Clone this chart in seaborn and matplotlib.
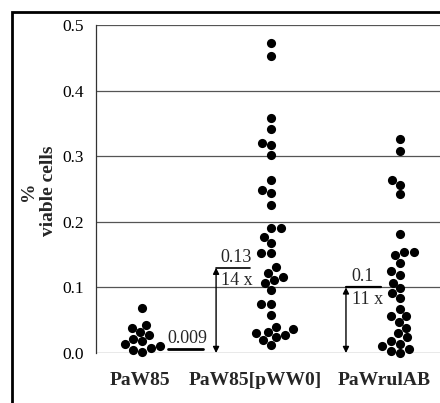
import numpy as np
import pandas as pd
import matplotlib
matplotlib.use("Agg")
import matplotlib.pyplot as plt
import matplotlib.transforms as mtransforms
from matplotlib.patches import Rectangle
import seaborn as sns

# ---- data ----
categories = ["PaW85", "PaW85[pWW0]", "PaWrulAB"]
paw85 = [0.069, 0.043, 0.038, 0.032, 0.027, 0.022, 0.018, 0.014, 0.011,
         0.008, 0.005, 0.002]
paw85_pww0 = [0.473, 0.453, 0.358, 0.341, 0.320, 0.317, 0.302, 0.264, 0.248, 0.244,
              0.226, 0.190, 0.190, 0.177, 0.168, 0.152, 0.152, 0.131, 0.122, 0.116,
              0.111, 0.107, 0.096, 0.075, 0.075, 0.058, 0.040, 0.036, 0.032, 0.030,
              0.027, 0.024, 0.020, 0.012]
pawrulab = [0.326, 0.308, 0.264, 0.256, 0.242, 0.181, 0.154, 0.154, 0.149, 0.137,
            0.125, 0.119, 0.107, 0.099, 0.092, 0.084, 0.067, 0.056, 0.056, 0.047,
            0.038, 0.030, 0.024, 0.019, 0.014, 0.010, 0.006, 0.003, 0.000]
yticks = [0.0, 0.1, 0.2, 0.3, 0.4, 0.5]
ytick_labels = ["0.0", "0.1", "0.2", "0.3", "0.4", "0.5"]
# annotation values: (label above line, fold label below)
base_value = 0.009
pww0_value, pww0_fold = 0.13, "14 x"
rulab_value, rulab_fold = 0.10, "11 x"

df = pd.DataFrame({
    "strain": [categories[0]] * len(paw85) + [categories[1]] * len(paw85_pww0)
              + [categories[2]] * len(pawrulab),
    "viable": paw85 + paw85_pww0 + pawrulab,
})

sns.set_style("white")
plt.rcParams["font.family"] = ["Liberation Serif", "DejaVu Serif"]

fig = plt.figure(figsize=(4.4, 4.03), dpi=100)
ax = fig.add_axes([96 / 440, 50 / 403, 344 / 440, 328 / 403])

sns.swarmplot(data=df, x="strain", y="viable", order=categories, color="black",
              size=6.6, ax=ax, warn_thresh=1.0)
for coll in ax.collections:
    coll.set_clip_on(False)

ax.set_xlim(-0.357, 2.31)
ax.set_ylim(0, 0.5)
ax.set_yticks(yticks)
ax.set_yticklabels(ytick_labels, fontsize=12.5)
ax.set_xlabel("")
ax.set_ylabel("%\nviable cells", fontsize=14, fontweight="bold", multialignment="center")
ax.yaxis.label.set(ha="center", va="center")
ax.yaxis.set_label_coords(-0.168, 0.494)

ax.grid(axis="y", color="#555555", lw=0.9)
ax.set_axisbelow(True)
for s in ["top", "right", "bottom"]:
    ax.spines[s].set_visible(False)
ax.spines["left"].set_color("#333333")
ax.spines["left"].set_linewidth(0.9)
ax.tick_params(axis="y", direction="inout", length=5, width=0.8, pad=6, colors="black")
ax.tick_params(axis="x", length=0, pad=14)
for lab in ax.get_xticklabels():
    lab.set_fontsize(14)
    lab.set_fontweight("bold")
offsets = [-2, -16, -16]
for lab, off in zip(ax.get_xticklabels(), offsets):
    lab.set_transform(lab.get_transform()
                      + mtransforms.ScaledTranslation(off / 100, 0, fig.dpi_scale_trans))

# ---- annotations ----
ax.text(0.2, 0.016, f"{base_value:g}", fontsize=13, ha="left", va="baseline")
ax.plot([0.2, 0.47], [0.006, 0.006], color="black", lw=2, clip_on=False)

arrow = dict(arrowstyle="<|-|>", color="black", lw=1, mutation_scale=9, shrinkA=0, shrinkB=0)
# PaW85[pWW0]
ax.annotate("", xy=(0.574, 0.0), xytext=(0.574, pww0_value), arrowprops=arrow)
ax.plot([0.574, 0.84], [pww0_value, pww0_value], color="black", lw=1.2)
ax.text(0.605, pww0_value + 0.008, f"{pww0_value:g}", fontsize=13, ha="left", va="baseline")
ax.text(0.61, pww0_value - 0.027, pww0_fold, fontsize=13, ha="left", va="baseline")
# PaWrulAB
ax.annotate("", xy=(1.581, 0.0), xytext=(1.581, rulab_value), arrowprops=arrow)
ax.plot([1.581, 1.853], [rulab_value, rulab_value], color="black", lw=1.6)
ax.text(1.625, rulab_value + 0.009, f"{rulab_value:g}", fontsize=13, ha="left", va="baseline")
ax.text(1.625, rulab_value - 0.026, rulab_fold, fontsize=13, ha="left", va="baseline")

# outer frame (cropped at right and bottom)
fig.add_artist(Rectangle((12 / 440, -0.5), 2, (403 - 12) / 403 + 0.5,
                         transform=fig.transFigure, fill=False, edgecolor="black", lw=2))

fig.savefig("out.png", dpi=100)
